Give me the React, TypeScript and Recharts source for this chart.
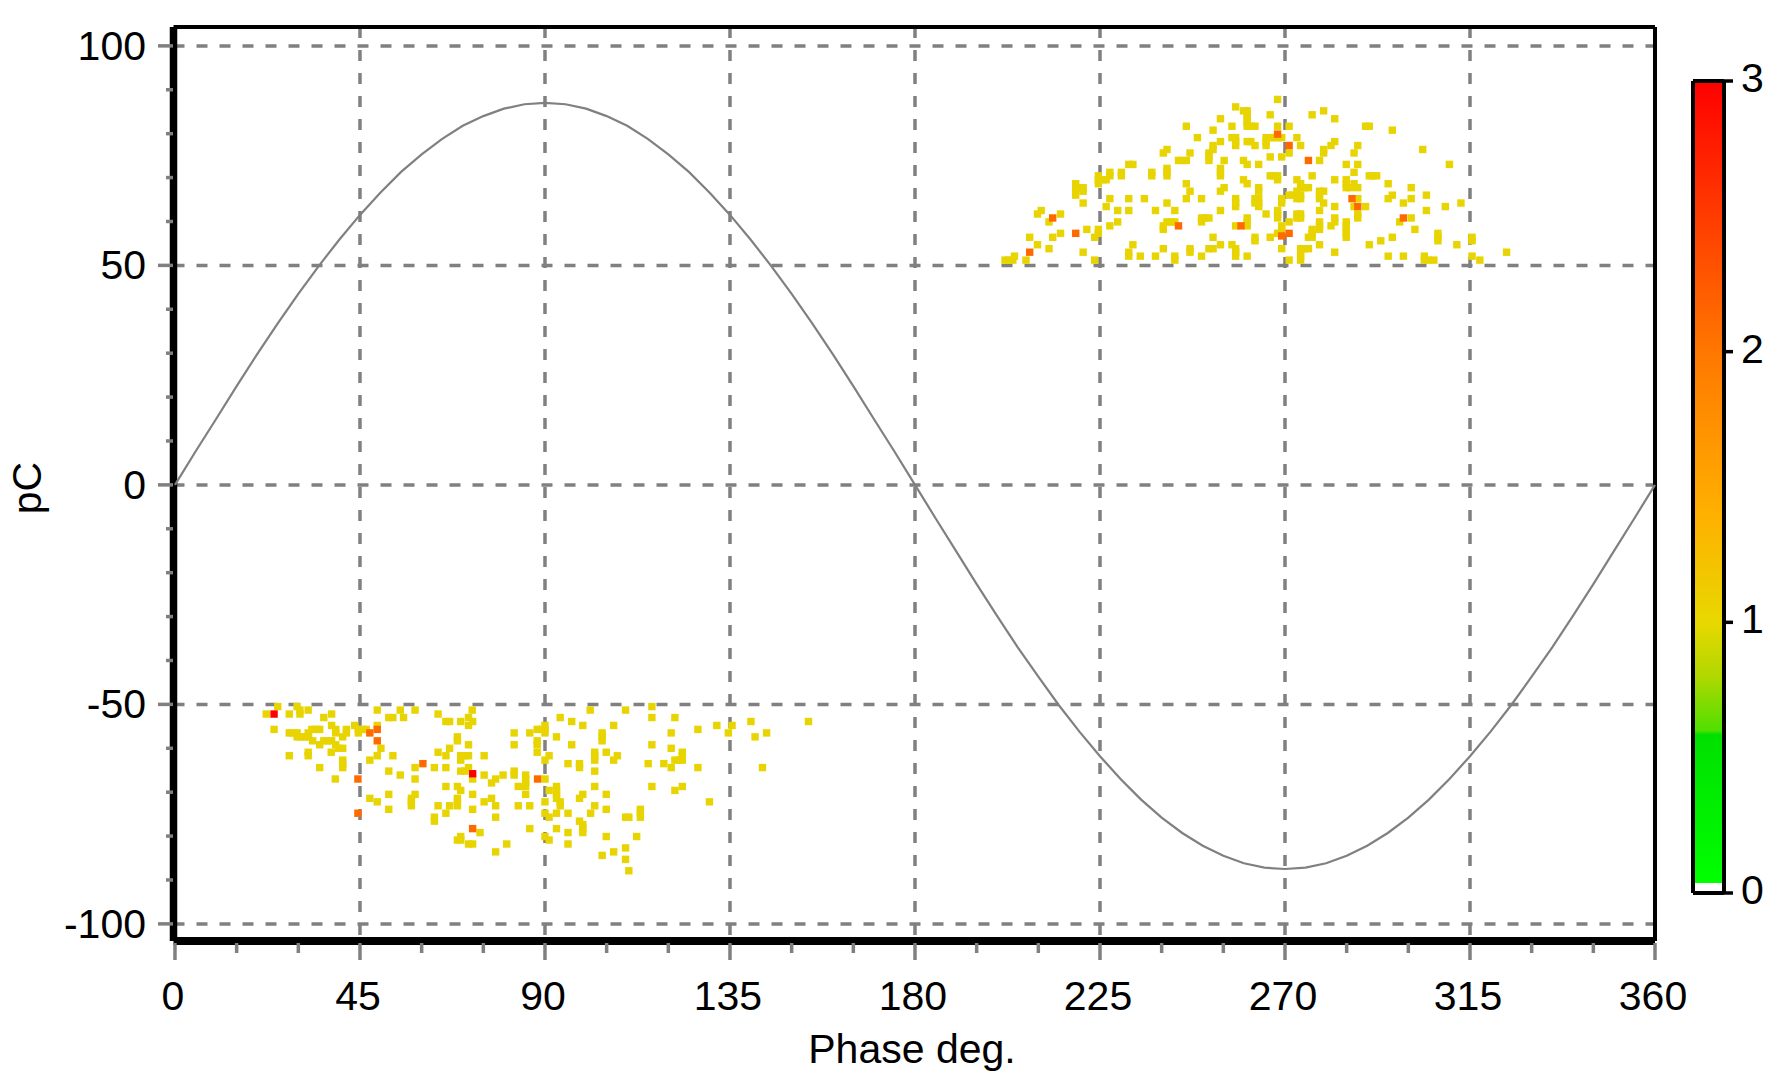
import React from 'react';
import { ScatterChart, Scatter, XAxis, YAxis, CartesianGrid, BarChart, Bar, Label } from 'recharts';

const FONT = '"Liberation Sans", Arial, sans-serif';
const xTicks = [0,15,30,45,60,75,90,105,120,135,150,165,180,195,210,225,240,255,270,285,300,315,330,345,360];
const xMajor = [0,45,90,135,180,225,270,315,360];
const yTicks = [-100,-90,-80,-70,-60,-50,-40,-30,-20,-10,0,10,20,30,40,50,60,70,80,90,100];
const yMajor = [-100,-50,0,50,100];
const barTicks = [0,1,2,3];

const curvePhase = [0,5,10,15,20,25,30,35,40,45,50,55,60,65,70,75,80,85,90,95,100,105,110,115,120,125,130,135,140,145,150,155,160,165,170,175,180,185,190,195,200,205,210,215,220,225,230,235,240,245,250,255,260,265,270,275,280,285,290,295,300,305,310,315,320,325,330,335,340,345,350,355,360];
const curvePC = [0,7.6,15,22.5,29.8,36.8,43.5,49.9,55.9,61.5,66.6,71.3,75.3,78.8,81.8,84,85.7,86.7,87,86.7,85.7,84,81.8,78.8,75.3,71.3,66.6,61.5,55.9,49.9,43.5,36.8,29.8,22.5,15,7.6,0,-7.6,-15.1,-22.6,-29.9,-37,-43.7,-50.2,-56.2,-61.8,-67,-71.7,-75.8,-79.3,-82.2,-84.5,-86.2,-87.2,-87.5,-87.2,-86.2,-84.5,-82.2,-79.3,-75.8,-71.7,-67,-61.8,-56.2,-50.2,-43.7,-37,-29.9,-22.6,-15.1,-7.6,0];

// rows of [pC, phases]
const posYellow: [number, number[]][] = [
  [51.2,[201.9,202.8,203.8,207,223.7,243.2,271,273.8,303.9,304.9,306.2,317.4]],
  [52.1,[204.2,234.8,238.5,232,249.7,258,260.8,243.2,273.8,295.1,298.8,303.9,315.5]],
  [53,[220.9,232,246.9,258,273.8,282.1,323.9]],
  [53.8,[212.6,240.4,246.9,251.5,252.5,258,269.2,273.8,274.7,275.7]],
  [54.7,[209.8,233,254.3,257.1,278.4,290.5,311.8]],
  [55.6,[262.7,293.3,307.2,315.5]],
  [56.4,[207.9,213.5,223.7,252.5,262.7,266.4,275.7,276.6,284.9,296.1,307.2,315.5]],
  [57.3,[215.4,224.6,268.2,276.6,284.9,307.2]],
  [58.2,[221.8,224.6,240.4,269.2,276.6,278.4,284.9,301.6]],
  [59,[227.4,240.4,258,260.8,269.2,278.4,281.2,284.9]],
  [59.9,[212.6,229.3,241.3,242.3,243.2,249.7,260.8,271,278.4,282.1,284.9,297.9]],
  [60.8,[249.7,250.6,251.5,260.8,268.2,272.9,273.8,282.1,300.7,287.7]],
  [61.7,[209.8,215.4,265.4,268.2,272.9,273.8,287.7]],
  [62.5,[210.7,229.3,232,238.5,243.2,254.3,268.2,278.4,304.4]],
  [63.4,[226.5,258,263.6,282.1,289.6,286.8,309]],
  [64.2,[220.9,241.3,258,262.7,263.6,269.2,279.4,298.8,312.8]],
  [65.2,[227.4,232,235.8,246,249.7,258,262.7,263.6,269.2,272.9,273.8,278.4,287.7,295.1,300.7]],
  [66,[219.1,271,271.9,272.9,273.8,278.4,296.1,304.4]],
  [66.9,[219.1,220.9,246.9,254.3,263.6,272.9,278.4,279.4]],
  [67.7,[219.1,220,220.9,255.2,263.6,273.8,274.7,275.7,284.9,285.9,287.7,300.7]],
  [68.6,[219.1,224.6,246,260.8,273.8,284.9,286.8,295.1]],
  [69.5,[224.6,225.6,226.5,259.9,268.2,272.9,282.1,284.9]],
  [70.4,[224.6,227.4,230.2,237.6,241.3,254.3,266.4,267.3,268.2,276.6,290.5,291.4,292.3]],
  [71.2,[227.4,230.2,237.6,241.3,254.3,286.8]],
  [72.1,[241.3,254.3]],
  [73,[232,233,260.8,263.6,284.9,287.7,310]],
  [73.9,[244.1,245,246,251.5,255.2,259.9,278.4]],
  [74.7,[251.5,266.4,269.2]],
  [75.6,[240.4,246.9,251.5,271,279.4,286.8]],
  [76.4,[241.3,252.5,279.4,303.5]],
  [77.3,[252.5,258,262.7,265.4,273.8,281.2,287.7]],
  [78.2,[254.3,258,260.8,261.7,265.4,282.1]],
  [79.1,[248.7,257.1,258,265.4,266.4,267.3,268.2,269.2,272.9]],
  [80.8,[252.5,296.1]],
  [81.7,[246,257.1,260.8,261.7,262.7,268.2,271,289.6,290.5]],
  [82.6,[260.8]],
  [83.4,[254.3,260.8,282.1]],
  [84.3,[260.8,266.4,276.6]],
  [85.2,[259.9,260.8,279.4]],
  [86.1,[258]],
  [87.8,[268.2]],
];
const posOrange: [number, number[]][] = [
  [53,[207.9]],
  [56.7,[269.2]],
  [57.3,[219.1,271]],
  [59,[244.1,259.3]],
  [60.8,[213.5,298.8]],
  [63.4,[287.7]],
  [65.2,[286.3]],
  [73.9,[275.7]],
  [77.3,[271]],
  [79.9,[268.2]],
];
const negYellow: [number, number[]][] = [
  [-50.5,[25,29.7,116]],
  [-51.3,[30.4,32.4,49.2,54.8,58.4,72.3,101,109.6]],
  [-52.2,[22.2,27.8,30.4,38.1,64]],
  [-53,[36.2,52,53,55.6,71.4,93.7,116,121.6]],
  [-53.9,[65.9,66.8,69.5,72.4,96.5,140.1,154.1]],
  [-54.8,[38.1,43.7,49.2,71.4,99.2,106.7,90,131.8,135.5]],
  [-55.7,[24.1,33.3,34.3,35.2,39.1,41.7,44.6,45.6,46.5,88.1,89.1,90,127.2]],
  [-56.5,[27.8,28.7,29.7,32.4,39.1,41.7,44.6,82.5,86.3,90,103.9,120.7,134.6,143.9]],
  [-57.4,[29.7,30.6,31.6,32.5,40.8,68.7,92.8,103.9,141.1]],
  [-58.3,[33.5,36.2,37.1,38.1,68.7,88.1,103.9]],
  [-59.2,[35.2,39.1,71.4,82.5,88.1,96.5,116]],
  [-60,[39.8,40.8,50.1,66.8,120.7]],
  [-60.9,[32.4,38,64,88.1,102.1,104.9,123.4]],
  [-61.7,[27.8,32.4,49.2,53,65.9,69.5,70.5,71.4,75.2,91,102.1,107.6,123.4]],
  [-62.7,[40.8,47.4,69.5,90,102.1,106.7,121.6,122.6,123.4]],
  [-63.5,[40.8,95.6,98.4,115.1,118.9]],
  [-64.4,[35.2,40.8,58.4,63.1,65.9,71.4,98.4,120.7,127.2,142.9]],
  [-65.2,[52,69.5,70.5,82.5,102.1]],
  [-66.1,[54.8,75.2,79.8,82.5,85.3]],
  [-67,[39,58.4,72.4,78,85.3,90]],
  [-67.9,[77,85.3]],
  [-68.7,[65.9,68.7,83.5,85.3,92.8,102.1,116,123.4]],
  [-69.6,[69.5,91,92.8,121.6]],
  [-70.5,[52,58.4,72.4,85.3,92.8,99.2,104.9]],
  [-71.4,[47.4,57.5,68.7,77,98.4,92.8]],
  [-72.2,[49.2,57.5,68.7,75.2,90,93.7,130]],
  [-73.1,[57.5,64,66.8,68.7,78,83.5,86.3,93.7,102.1]],
  [-73.9,[52,72.4,104.9,113.2]],
  [-74.8,[65.9,90,92.8,95.6,101.1,113.2]],
  [-75.7,[63.1,78,91,109.6,110.4,113.2]],
  [-76.6,[63.1,98.4]],
  [-77.4,[99.2]],
  [-78.3,[86.3,92.8,99.2]],
  [-79.2,[74.2,95.6,99.2]],
  [-80.1,[69.5,90,104.9,112.3]],
  [-80.9,[68.7,69.5,91]],
  [-81.8,[71.4,72.4,80.7,95.6]],
  [-82.7,[109.6]],
  [-83.6,[78,106.7]],
  [-84.4,[103.9]],
  [-85.3,[109.6]],
  [-87.9,[110.4]],
];
const negOrange: [number, number[]][] = [
  [-55.7,[49.2]],
  [-56.5,[47.4]],
  [-58.3,[49.2]],
  [-63.5,[60.3]],
  [-67,[44.5,88.2]],
  [-74.8,[44.5]],
  [-78.3,[72.4]],
];
const negRed: [number, number[]][] = [
  [-52.2,[24.1]],
  [-65.8,[72.4]],
];

const cells = (rows: [number, number[]][]) => rows.flatMap(([y, xs]) => xs.map((x) => ({ x, y })));
const curve = curvePhase.map((x, i) => ({ x, y: curvePC[i] }));
const barData = [{ name: 'scale', v: 3 }];

const cellShape = (fill: string) => (p: any) => (
  <rect x={p.cx - 3.7} y={p.cy - 3.7} width={7.4} height={7.4} fill={fill} />
);
const noShape = () => null;

const XTick = (p: any) => {
  const major = xMajor.includes(p.payload.value);
  return (
    <g>
      <line x1={p.x} x2={p.x} y1={943} y2={major ? 960 : 953} stroke="#808080" strokeWidth={3.5} />
      {major && (
        <text x={p.x - 2} y={1010} textAnchor="middle" fontFamily={FONT} fontSize={41} fill="#000">{p.payload.value}</text>
      )}
    </g>
  );
};
const YTick = (p: any) => {
  const major = yMajor.includes(p.payload.value);
  return (
    <g>
      <line x1={major ? 158 : 166} x2={173} y1={p.y} y2={p.y} stroke="#808080" strokeWidth={3.5} />
      {major && (
        <text x={146} y={p.y + 14} textAnchor="end" fontFamily={FONT} fontSize={41} fill="#000">{p.payload.value}</text>
      )}
    </g>
  );
};
const BarTick = (p: any) => (
  <g>
    <text x={1741 - 1660} y={p.y + 11} fontFamily={FONT} fontSize={41} fill="#000">{p.payload.value}</text>
  </g>
);

export default function App() {
  return (
    <div style={{ position: 'absolute', left: 0, top: 0, width: 1779, height: 1087, background: '#fff', overflow: 'hidden' }}>
      <div style={{ position: 'absolute', left: 0, top: 0 }}>
        <ScatterChart width={1779} height={1087} margin={{ left: 0, right: 123, top: 26, bottom: 0 }}>
          <CartesianGrid
            stroke="#808080"
            strokeWidth={3.5}
            strokeDasharray="11 12"
            horizontalValues={yMajor}
            verticalValues={xMajor}
          />
          <XAxis
            xAxisId={0}
            type="number"
            dataKey="x"
            domain={[-0.36, 360]}
            ticks={xTicks}
            interval={0}
            tickSize={0}
            tickMargin={0}
            height={146}
            axisLine={{ stroke: '#000', strokeWidth: 8 }}
            tickLine={false}
            tick={XTick}
          >
            <Label
              content={() => (
                <text x={912} y={1063} textAnchor="middle" fontFamily={FONT} fontSize={41} fill="#000">Phase deg.</text>
              )}
            />
          </XAxis>
          <XAxis xAxisId={1} type="number" dataKey="x" orientation="top" domain={[-0.36, 360]} height={1} tick={false} tickLine={false} axisLine={{ stroke: '#000', strokeWidth: 4 }} />
          <YAxis
            yAxisId={0}
            type="number"
            dataKey="y"
            domain={[-103.9, 104.3]}
            ticks={yTicks}
            interval={0}
            tickSize={0}
            tickMargin={0}
            width={173.5}
            axisLine={{ stroke: '#000', strokeWidth: 7.5 }}
            tickLine={false}
            tick={YTick}
          >
            <Label
              content={() => (
                <text x={41} y={488} textAnchor="middle" fontFamily={FONT} fontSize={41} fill="#000" transform="rotate(-90 41 488)">pC</text>
              )}
            />
          </YAxis>
          <YAxis yAxisId={1} type="number" dataKey="y" orientation="right" domain={[-103.9, 104.3]} width={1} tick={false} tickLine={false} axisLine={{ stroke: '#000', strokeWidth: 4 }} />
          <Scatter data={curve} xAxisId={0} yAxisId={0} line={{ stroke: '#808080', strokeWidth: 2.2 }} shape={noShape} isAnimationActive={false} />
          <Scatter data={cells(posYellow)} xAxisId={0} yAxisId={0} shape={cellShape('#e8d400')} isAnimationActive={false} />
          <Scatter data={cells(negYellow)} xAxisId={0} yAxisId={0} shape={cellShape('#e8d400')} isAnimationActive={false} />
          <Scatter data={cells(posOrange)} xAxisId={0} yAxisId={0} shape={cellShape('#ff6a00')} isAnimationActive={false} />
          <Scatter data={cells(negOrange)} xAxisId={0} yAxisId={0} shape={cellShape('#ff6a00')} isAnimationActive={false} />
          <Scatter data={cells(negRed)} xAxisId={0} yAxisId={0} shape={cellShape('#ff0000')} isAnimationActive={false} />
        </ScatterChart>
      </div>
      <div style={{ position: 'absolute', left: 1660, top: 40 }}>
        <BarChart width={119} height={900} data={barData} margin={{ left: 32, right: 54, top: 40, bottom: 46 }} barCategoryGap={0}>
          <defs>
            <linearGradient id="scaleGrad" x1="0" y1="0" x2="0" y2="1">
              <stop offset="0" stopColor="#ff0000" />
              <stop offset="0.333" stopColor="#ff7700" />
              <stop offset="0.533" stopColor="#ffb000" />
              <stop offset="0.667" stopColor="#e8d800" />
              <stop offset="0.733" stopColor="#b0d800" />
              <stop offset="0.8" stopColor="#50e000" />
              <stop offset="0.805" stopColor="#00e000" />
              <stop offset="0.988" stopColor="#00ff00" />
              <stop offset="0.988" stopColor="#ffffff" />
              <stop offset="1" stopColor="#ffffff" />
            </linearGradient>
          </defs>
          <XAxis dataKey="name" height={1} tick={false} tickLine={false} axisLine={{ stroke: '#000', strokeWidth: 4 }} />
          <XAxis xAxisId="top" dataKey="name" orientation="top" height={1} tick={false} tickLine={false} axisLine={{ stroke: '#000', strokeWidth: 4 }} />
          <YAxis yAxisId="left" domain={[0, 3]} width={1} tick={false} tickLine={false} axisLine={{ stroke: '#000', strokeWidth: 4 }} />
          <YAxis
            yAxisId="r"
            orientation="right"
            type="number"
            domain={[0, 3]}
            ticks={barTicks}
            interval={0}
            width={1}
            tickSize={9}
            tickMargin={0}
            tickLine={{ stroke: '#000', strokeWidth: 3.5 }}
            axisLine={{ stroke: '#000', strokeWidth: 4 }}
            tick={BarTick}
          />
          <Bar dataKey="v" yAxisId="r" fill="url(#scaleGrad)" isAnimationActive={false} />
        </BarChart>
      </div>
    </div>
  );
}
